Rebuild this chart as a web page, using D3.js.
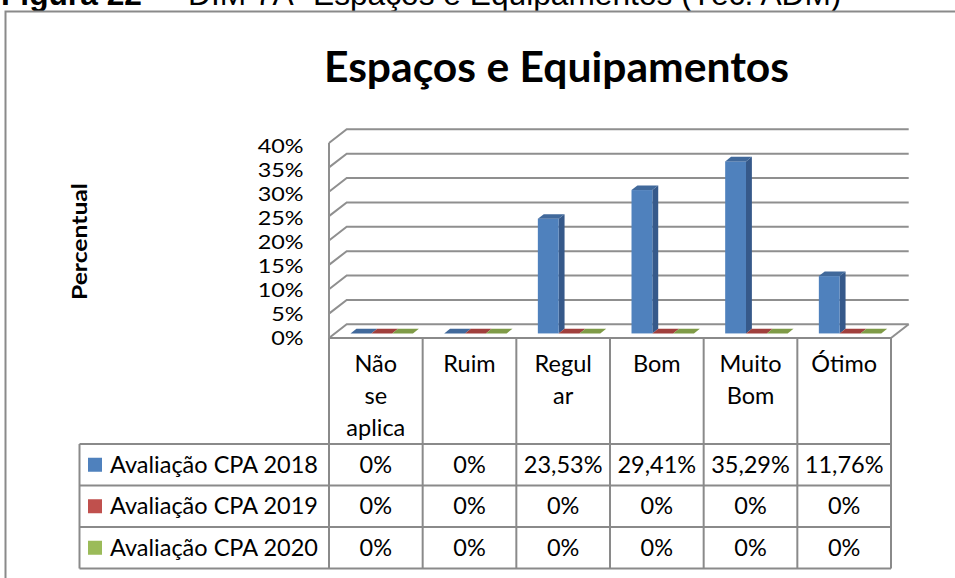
<!DOCTYPE html>
<html><head><meta charset="utf-8">
<script src="https://cdn.jsdelivr.net/npm/d3@7"></script>
<style>
html,body{margin:0;padding:0;background:#fff;}
svg{display:block;}
</style></head>
<body>
<svg id="c" width="955" height="578"></svg>
<script>
// ---- data ----
const categories = ["Não se aplica", "Ruim", "Regular", "Bom", "Muito Bom", "Ótimo"];
const categoryLines = [["Não", "se", "aplica"], ["Ruim"], ["Regul", "ar"], ["Bom"], ["Muito", "Bom"], ["Ótimo"]];
const seriesNames = ["Avaliação CPA 2018", "Avaliação CPA 2019", "Avaliação CPA 2020"];
const values2018 = [0, 0, 23.53, 29.41, 35.29, 11.76];
const values2019 = [0, 0, 0, 0, 0, 0];
const values2020 = [0, 0, 0, 0, 0, 0];
const yTicks = [0, 5, 10, 15, 20, 25, 30, 35, 40];
const chartTitle = "Espaços e Equipamentos";
const yTitle = "Percentual";
const figureLabel = "Figura 22";
const figureText = "DIM 7A- Espaços e Equipamentos (Téc. ADM)";

const seriesValues = [values2018, values2019, values2020];
const colors = {
  front: ["#4F81BD", "#C0504D", "#9BBB59"],
  side:  ["#36598A", "#8C3836", "#708A3F"],
  top:   ["#41699B", "#A03F3C", "#7F9B47"]
};

const svg = d3.select("#c");
const CAL = "Lato, 'Open Sans', sans-serif";
const FS = 23.5;
const gridColor = "#8F8F8F";

// ---- figure caption (cut at top, as in the source page) ----
svg.append("text").attr("x", 1).attr("y", 4.5)
  .attr("font-family", "'Liberation Sans', Arial, sans-serif").attr("font-weight", "bold")
  .attr("font-size", 31.7).attr("fill", "#000").text(figureLabel);
svg.append("text").attr("x", 152).attr("y", 4.5)
  .attr("font-family", "'Liberation Sans', Arial, sans-serif")
  .attr("font-size", 31.7).attr("fill", "#000").text("–");
svg.append("text").attr("x", 188).attr("y", 4.5)
  .attr("font-family", "'Liberation Sans', Arial, sans-serif")
  .attr("font-size", 31.7).attr("fill", "#000").text(figureText);

// ---- outer frame ----
svg.append("path").attr("d", "M5.5,578 L5.5,11.5 L955,11.5")
  .attr("fill", "none").attr("stroke", "#8A8A8A").attr("stroke-width", 2);

// ---- title ----
svg.append("text").attr("x", 556.5).attr("y", 81.7).attr("text-anchor", "middle")
  .attr("font-family", CAL).attr("font-weight", "bold").attr("font-size", 42.6)
  .attr("fill", "#000").text(chartTitle);

// ---- scales ----
const x = d3.scaleBand().domain(categories).range([329, 891]);
const y = d3.scaleLinear().domain([0, 40]).range([338, 143]);
const yLab = d3.scaleLinear().domain([0, 40]).range([344.5, 152.8]);
const DX = 17.7, DY = -13.7; // full depth offset
const bw = x.bandwidth();
const barW = bw / 4.5;
const xs = d3.scaleBand().domain(seriesNames).range([barW * 0.75, bw - barW * 0.75]);

// ---- walls / grid ----
const grid = svg.append("g").attr("fill", "none").attr("stroke", gridColor).attr("stroke-width", 2);
yTicks.forEach(t => {
  grid.append("path").attr("d",
    `M${x.range()[0]},${y(t)} L${x.range()[0] + DX},${y(t) + DY} L${x.range()[1] + DX},${y(t) + DY}`);
});
grid.append("line").attr("x1", x.range()[0]).attr("x2", x.range()[0])
  .attr("y1", y(40)).attr("y2", y(0));
grid.append("line").attr("x1", x.range()[1]).attr("y1", y(0))
  .attr("x2", x.range()[1] + DX).attr("y2", y(0) + DY);

// ---- y labels ----
svg.append("g").selectAll("text").data(yTicks).join("text")
  .attr("transform", d => `translate(303.5,${yLab(d)}) scale(1.2,1)`)
  .attr("text-anchor", "end")
  .attr("font-family", CAL).attr("font-size", 19.5).attr("fill", "#000")
  .text(d => d + "%");

// ---- y title ----
svg.append("text").attr("transform", "translate(86.5,241.5) rotate(-90)")
  .attr("text-anchor", "middle").attr("font-family", CAL).attr("font-weight", "bold")
  .attr("font-size", 21).attr("textLength", 117).attr("lengthAdjust", "spacingAndGlyphs")
  .attr("fill", "#000").text(yTitle);

// ---- bars ----
const ddx = DX / 3, ddy = DY / 3;
const bars = svg.append("g");
categories.forEach((c, ci) => {
  seriesNames.forEach((s, si) => {
    const v = seriesValues[si][ci];
    const x0 = x(c) + xs(s) + ddx, x1 = x0 + xs.bandwidth();
    const yb = y(0) + ddy, yt = y(v) + ddy;
    const g = bars.append("g");
    if (v > 0) {
      g.append("path").attr("fill", colors.side[si])
        .attr("d", `M${x1},${yt} L${x1 + ddx},${yt + ddy} L${x1 + ddx},${yb + ddy} L${x1},${yb} Z`);
      g.append("rect").attr("x", x0).attr("y", yt).attr("width", x1 - x0).attr("height", yb - yt)
        .attr("fill", colors.front[si]);
    }
    g.append("path").attr("fill", colors.top[si])
      .attr("d", `M${x0},${yt} L${x1},${yt} L${x1 + ddx},${yt + ddy} L${x0 + ddx},${yt + ddy} Z`);
  });
});

// ---- data table ----
const tableLeft = 79.5, headerTop = y(0), headerBottom = 444, rowH = 41.5;
const rowTop = i => headerBottom + i * rowH;
const tableBottom = rowTop(3);
const tb = svg.append("g").attr("fill", "none").attr("stroke", "#8A8A8A").attr("stroke-width", 2);
const colEdges = categories.map(c => x(c)).concat([x.range()[1]]);
colEdges.forEach(cx => {
  tb.append("line").attr("x1", cx).attr("x2", cx).attr("y1", headerTop).attr("y2", tableBottom);
});
tb.append("line").attr("x1", tableLeft).attr("x2", tableLeft).attr("y1", headerBottom).attr("y2", tableBottom);
[0, 1, 2, 3].forEach(i => {
  tb.append("line").attr("x1", tableLeft).attr("x2", x.range()[1])
    .attr("y1", rowTop(i)).attr("y2", rowTop(i));
});
tb.append("line").attr("x1", x.range()[0]).attr("x2", x.range()[1]).attr("y1", headerTop).attr("y2", headerTop);

// header labels
categories.forEach((c, ci) => {
  categoryLines[ci].forEach((line, li) => {
    svg.append("text").attr("x", x(c) + bw / 2).attr("y", 371.7 + li * 32.3)
      .attr("text-anchor", "middle").attr("font-family", CAL).attr("font-size", FS)
      .attr("fill", "#000").text(line);
  });
});

const fmt = v => v === 0 ? "0%" : d3.format(".2f")(v).replace(".", ",") + "%";
seriesNames.forEach((s, si) => {
  const rt = rowTop(si);
  svg.append("rect").attr("x", 88).attr("y", rt + rowH / 2 - 7).attr("width", 14).attr("height", 14)
    .attr("fill", colors.front[si]);
  svg.append("text").attr("x", 110).attr("y", rt + 28.7)
    .attr("font-family", CAL).attr("font-size", FS).attr("fill", "#000").text(s);
  categories.forEach((c, ci) => {
    svg.append("text").attr("x", x(c) + bw / 2).attr("y", rt + 28.7)
      .attr("text-anchor", "middle").attr("font-family", CAL).attr("font-size", FS)
      .attr("fill", "#000").text(fmt(seriesValues[si][ci]));
  });
});
</script>
</body></html>
